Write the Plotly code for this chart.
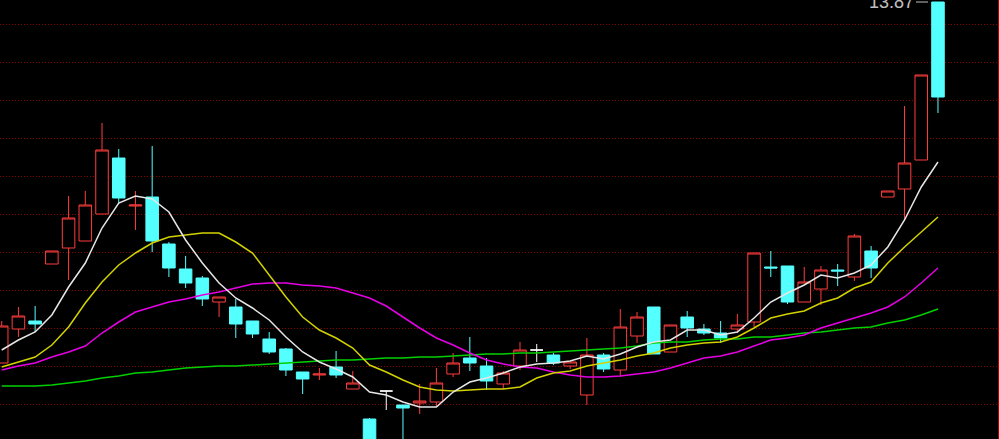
import plotly.graph_objects as go

# ---- data ----
day = list(range(57))
open_ = [10.26, 10.60, 10.68, 11.25, 11.41, 11.48, 11.75, 12.31, 11.83, 11.92,
         11.45, 11.20, 11.11, 10.87, 10.82, 10.68, 10.50, 10.40, 10.17, 10.14,
         10.22, 10.00, 9.70, 9.98, 9.84, 9.86, 9.87, 10.15, 10.31, 10.23,
         10.05, 10.23, 10.39, 10.34, 10.23, 9.94, 10.34, 10.19, 10.53, 10.82,
         10.37, 10.72, 10.60, 10.56, 10.60, 10.67, 11.22, 11.23, 10.87, 11.00,
         11.19, 11.12, 11.38, 11.92, 12.00, 12.29, 13.87]
high = [10.68, 10.82, 10.83, 11.38, 11.93, 11.98, 12.66, 12.40, 11.98, 12.43,
        11.47, 11.33, 11.13, 10.92, 10.90, 10.68, 10.57, 10.41, 10.17, 10.21,
        10.38, 10.18, 9.71, 9.98, 9.84, 10.05, 10.21, 10.36, 10.52, 10.31,
        10.18, 10.47, 10.45, 10.36, 10.27, 10.51, 10.36, 10.80, 10.77, 10.82,
        10.64, 10.78, 10.65, 10.68, 10.75, 11.36, 11.38, 11.23, 11.22, 11.23,
        11.25, 11.55, 11.43, 11.98, 12.83, 13.14, 13.87]
low = [10.26, 10.52, 10.57, 11.25, 11.09, 11.48, 11.75, 11.86, 11.59, 11.37,
       11.12, 11.01, 10.83, 10.72, 10.51, 10.51, 10.35, 10.13, 9.95, 10.09,
       10.11, 10.00, 9.40, 9.79, 9.44, 9.75, 9.83, 10.12, 10.18, 9.99,
       10.00, 10.19, 10.27, 10.24, 10.20, 9.84, 10.17, 10.12, 10.46, 10.35,
       10.37, 10.52, 10.54, 10.46, 10.56, 10.62, 11.12, 10.85, 10.87, 10.84,
       11.03, 11.08, 11.11, 11.92, 11.70, 12.29, 12.76]
close = [10.63, 10.73, 10.65, 11.38, 11.71, 11.84, 12.39, 11.91, 11.84, 11.48,
         11.21, 11.06, 10.90, 10.92, 10.65, 10.55, 10.37, 10.19, 10.10, 10.15,
         10.14, 10.06, 9.42, 9.98, 9.81, 9.88, 10.06, 10.26, 10.26, 10.08,
         10.16, 10.39, 10.39, 10.26, 10.27, 10.34, 10.20, 10.62, 10.72, 10.35,
         10.64, 10.61, 10.56, 10.51, 10.64, 11.36, 11.21, 10.87, 11.07, 11.19,
         11.18, 11.53, 11.21, 11.98, 12.26, 13.14, 12.92]

ma5 = [10.39, 10.49, 10.57, 10.74, 11.02, 11.26, 11.61, 11.86, 11.93, 11.90,
       11.77, 11.49, 11.26, 11.06, 10.91, 10.81, 10.69, 10.52, 10.37, 10.27,
       10.20, 10.12, 9.97, 9.94, 9.87, 9.82, 9.82, 9.97, 10.07, 10.11,
       10.16, 10.22, 10.25, 10.26, 10.28, 10.33, 10.30, 10.35, 10.42, 10.47,
       10.49, 10.59, 10.59, 10.54, 10.57, 10.71, 10.87, 10.96, 11.04, 11.14,
       11.11, 11.16, 11.24, 11.42, 11.69, 12.02, 12.27]
ma10 = [10.22, 10.27, 10.32, 10.44, 10.62, 10.86, 11.07, 11.24, 11.36, 11.46,
        11.52, 11.54, 11.56, 11.56, 11.47, 11.36, 11.14, 10.92, 10.72, 10.59,
        10.51, 10.41, 10.24, 10.17, 10.09, 10.02, 9.99, 9.98, 9.99, 10.00,
        10.00, 10.02, 10.11, 10.16, 10.18, 10.23, 10.26, 10.29, 10.33, 10.36,
        10.41, 10.44, 10.46, 10.47, 10.52, 10.61, 10.71, 10.75, 10.78, 10.86,
        10.91, 11.01, 11.07, 11.26, 11.42, 11.57, 11.72]
ma20 = [10.19, 10.23, 10.26, 10.32, 10.37, 10.43, 10.56, 10.67, 10.77, 10.82,
        10.87, 10.90, 10.94, 10.97, 11.01, 11.05, 11.06, 11.06, 11.04, 11.03,
        11.01, 10.96, 10.91, 10.83, 10.72, 10.61, 10.51, 10.44, 10.36, 10.29,
        10.25, 10.22, 10.21, 10.17, 10.14, 10.12, 10.12, 10.13, 10.15, 10.17,
        10.21, 10.26, 10.31, 10.33, 10.37, 10.43, 10.49, 10.51, 10.54, 10.61,
        10.66, 10.71, 10.76, 10.82, 10.92, 11.06, 11.21]
ma60 = [10.03, 10.03, 10.03, 10.04, 10.06, 10.08, 10.11, 10.13, 10.16, 10.17,
        10.19, 10.21, 10.22, 10.23, 10.23, 10.24, 10.25, 10.26, 10.27, 10.28,
        10.29, 10.29, 10.30, 10.31, 10.31, 10.32, 10.32, 10.33, 10.34, 10.35,
        10.35, 10.36, 10.36, 10.37, 10.38, 10.39, 10.40, 10.41, 10.43, 10.46,
        10.47, 10.47, 10.49, 10.50, 10.50, 10.52, 10.52, 10.54, 10.56, 10.57,
        10.59, 10.61, 10.62, 10.66, 10.69, 10.74, 10.80]

max_label = "13.87"

RED = "#ff3c3c"
CYAN = "#54ffff"
WHITE = "#ffffff"

fig = go.Figure()

# moving averages (drawn under the candles)
for vals, col in [(ma60, "#00d000"), (ma20, "#e600e6"), (ma10, "#d2d200"), (ma5, "#e6e6e6")]:
    fig.add_trace(go.Scatter(x=day, y=vals, mode="lines",
                             line=dict(color=col, width=1.5), hoverinfo="skip"))


def subset(cond):
    ii = [i for i in day if cond(open_[i], close[i])]
    return ([day[i] for i in ii], [open_[i] for i in ii], [high[i] for i in ii],
            [low[i] for i in ii], [close[i] for i in ii])


groups = [
    (lambda o, c: c > o, RED, "#000000"),
    (lambda o, c: c < o, CYAN, CYAN),
    (lambda o, c: c == o, WHITE, WHITE),
]
for cond, lc, fc in groups:
    x, o, h, l, c = subset(cond)
    style = dict(line=dict(color=lc, width=1), fillcolor=fc)
    fig.add_trace(go.Candlestick(x=x, open=o, high=h, low=l, close=c,
                                 increasing=style, decreasing=style,
                                 whiskerwidth=0, hoverinfo="skip"))

fig.add_annotation(x=day[-1], y=high[-1], text=max_label, showarrow=True,
                   arrowhead=0, arrowwidth=1, arrowcolor="#c0c0c0",
                   ax=-46, ay=0, standoff=10,
                   font=dict(family="Liberation Sans, Arial", size=18, color="#c0c0c0"))

fig.update_layout(
    width=999, height=439,
    margin=dict(l=0, r=1, t=0, b=0),
    paper_bgcolor="#000000", plot_bgcolor="#000000",
    showlegend=False, hovermode=False,
    boxgap=0.25, boxgroupgap=0,
    xaxis=dict(range=[-0.102, 59.59], showgrid=False, zeroline=False,
               showticklabels=False, showline=False, ticks="",
               rangeslider=dict(visible=False)),
    yaxis=dict(range=[9.50, 13.89], side="right", showticklabels=False, ticks="",
               zeroline=False, showgrid=True, tick0=13.647, dtick=0.38,
               gridcolor="#8c0000", gridwidth=1, griddash="1px,2px",
               showline=True, linecolor="#b00000", linewidth=1),
)

fig.write_html("out.html", config={"displayModeBar": False},
               post_script="document.body.style.margin='0';document.body.style.background='#000';document.body.style.overflow='hidden';")
